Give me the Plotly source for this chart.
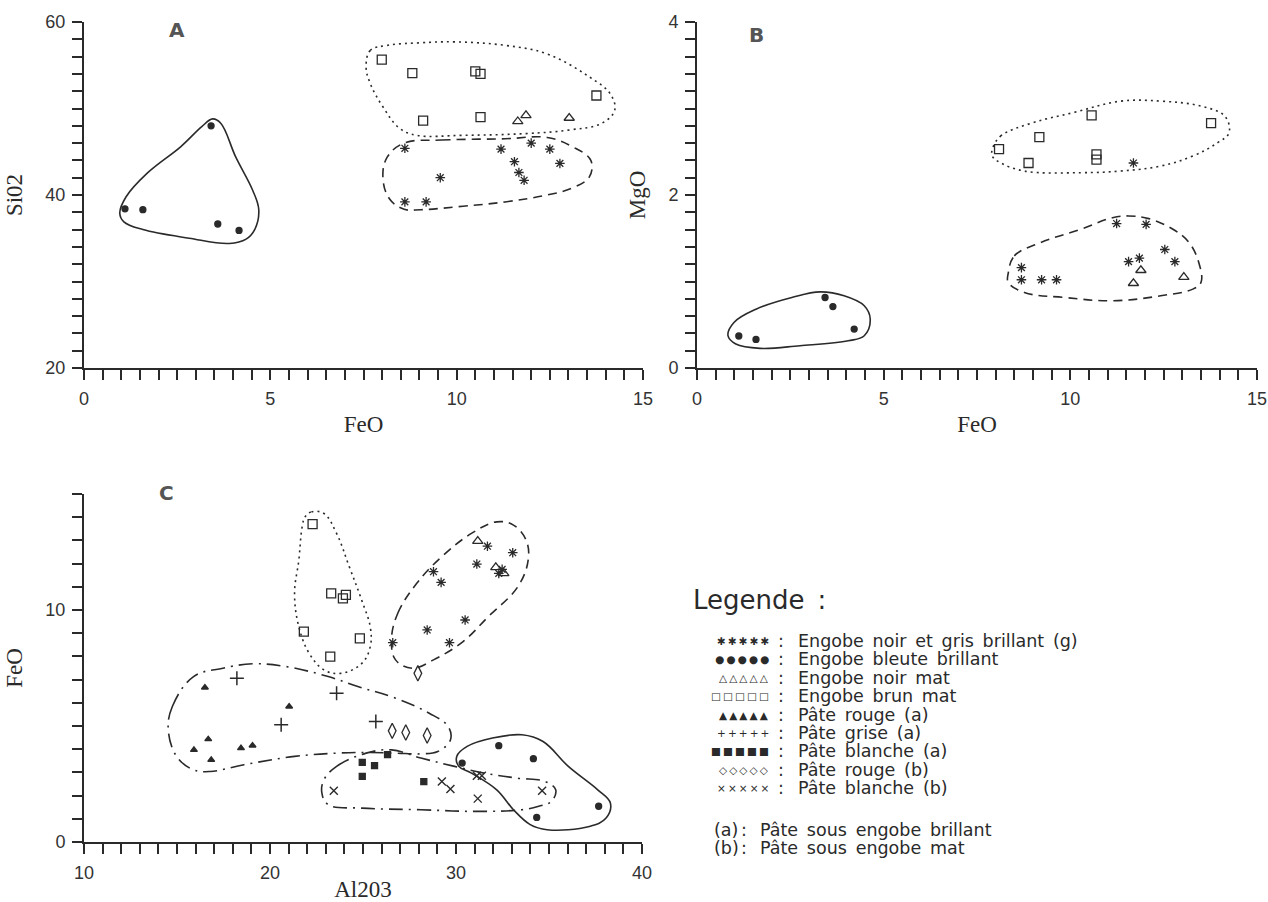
import plotly.graph_objects as go

W, H = 1268, 902

# ---------------- Panel A : SiO2 vs FeO ----------------
A_star_feo = [8.61, 11.19, 12.0, 12.5, 12.77, 11.55, 11.67, 11.81, 9.56, 8.61, 9.18]
A_star_sio2 = [45.4, 45.3, 46.0, 45.3, 43.65, 43.85, 42.6, 41.7, 42.0, 39.2, 39.2]
A_dot_feo = [3.41, 1.10, 1.58, 3.59, 4.16]
A_dot_sio2 = [48.0, 38.4, 38.3, 36.65, 35.9]
A_tri_feo = [11.64, 11.86, 13.02]
A_tri_sio2 = [48.5, 49.2, 48.9]
A_sq_feo = [7.99, 8.81, 10.5, 10.64, 13.75, 9.1, 10.64]
A_sq_sio2 = [55.65, 54.1, 54.3, 54.0, 51.5, 48.6, 49.0]

A_solid_x = [0.96, 1.13, 1.69, 2.60, 3.16, 3.45, 3.67, 4.07, 4.52, 4.69, 4.58, 4.35, 3.90, 2.82, 1.58, 1.07]
A_solid_y = [37.9, 39.8, 42.5, 45.6, 47.9, 48.8, 48.3, 44.4, 40.6, 38.3, 36.0, 34.9, 34.4, 35.0, 36.0, 36.9]
A_dot_x = [7.57, 7.68, 8.14, 9.04, 9.94, 11.3, 12.43, 13.56, 14.12, 14.24, 13.9, 12.99, 11.86, 10.17, 8.93, 8.47, 8.02, 7.68]
A_dot_y = [54.8, 56.7, 57.3, 57.6, 57.7, 57.3, 56.3, 53.65, 51.7, 49.8, 48.3, 47.5, 47.1, 46.9, 46.9, 47.7, 50.2, 52.9]
A_dash_x = [8.59, 9.6, 11.3, 12.43, 13.1, 13.6, 13.56, 13.1, 12.43, 11.3, 10.17, 9.04, 8.59, 8.19, 8.02, 8.14]
A_dash_y = [46.0, 46.35, 46.5, 46.65, 45.6, 44.0, 42.1, 40.8, 40.0, 39.2, 38.7, 38.3, 38.35, 39.6, 42.1, 44.4]

# ---------------- Panel B : MgO vs FeO ----------------
B_sq_feo = [8.09, 8.88, 9.17, 10.57, 10.7, 10.7, 13.77]
B_sq_mgo = [2.53, 2.37, 2.67, 2.92, 2.47, 2.41, 2.83]
B_star_feo = [11.69, 11.24, 12.03, 12.53, 11.56, 11.85, 12.8, 8.69, 8.69, 9.23, 9.63]
B_star_mgo = [2.37, 1.67, 1.66, 1.37, 1.23, 1.27, 1.23, 1.16, 1.02, 1.02, 1.02]
B_tri_feo = [11.89, 11.69, 13.04]
B_tri_mgo = [1.13, 0.98, 1.05]
B_dot_feo = [3.43, 3.64, 4.21, 1.12, 1.58]
B_dot_mgo = [0.815, 0.71, 0.45, 0.37, 0.33]

B_solid_x = [0.83, 0.99, 1.58, 2.54, 3.30, 3.94, 4.48, 4.64, 4.48, 4.05, 2.76, 1.69, 1.04]
B_solid_y = [0.373, 0.527, 0.68, 0.815, 0.88, 0.835, 0.72, 0.565, 0.373, 0.315, 0.258, 0.227, 0.277]
B_dot_x = [7.91, 8.13, 8.99, 10.06, 11.35, 12.42, 13.5, 14.14, 14.25, 13.93, 13.28, 12.42, 11.35, 10.28, 8.77, 8.13, 7.91]
B_dot_y = [2.527, 2.68, 2.835, 2.95, 3.085, 3.085, 3.027, 2.91, 2.72, 2.6, 2.45, 2.335, 2.277, 2.258, 2.277, 2.373, 2.45]
B_dash_x = [8.34, 8.5, 9.2, 10.28, 11.13, 11.56, 12.1, 12.75, 13.18, 13.44, 13.5, 13.28, 12.42, 11.13, 9.85, 8.77, 8.34]
B_dash_y = [1.104, 1.296, 1.45, 1.604, 1.738, 1.758, 1.727, 1.604, 1.45, 1.22, 0.99, 0.912, 0.835, 0.777, 0.815, 0.873, 0.988]

# ---------------- Panel C : FeO vs Al2O3 ----------------
C_sq_al = [22.29, 23.29, 23.92, 24.08, 21.82, 24.83, 23.24]
C_sq_fe = [13.7, 10.72, 10.5, 10.65, 9.07, 8.78, 7.99]
C_tri_al = [31.17, 32.14, 32.57]
C_tri_fe = [12.97, 11.84, 11.58]
C_star_al = [31.69, 33.05, 31.12, 28.79, 29.2, 32.3, 32.48, 30.49, 28.45, 29.65, 26.6]
C_star_fe = [12.75, 12.47, 11.98, 11.65, 11.19, 11.58, 11.75, 9.57, 9.14, 8.59, 8.59]
C_dia_al = [27.95, 26.57, 27.3, 28.45]
C_dia_fe = [7.27, 4.79, 4.72, 4.59]
C_ftri_al = [16.5, 21.03, 16.68, 15.91, 18.44, 19.06, 16.84]
C_ftri_fe = [6.66, 5.84, 4.43, 3.97, 4.05, 4.16, 3.54]
C_plus_al = [18.22, 23.58, 20.6, 25.69]
C_plus_fe = [7.06, 6.41, 5.05, 5.19]
C_fsq_al = [26.32, 24.96, 25.62, 24.96, 28.27]
C_fsq_fe = [3.77, 3.43, 3.29, 2.83, 2.6]
C_x_al = [23.43, 29.24, 29.7, 31.12, 31.39, 31.17, 34.63]
C_x_fe = [2.21, 2.61, 2.28, 2.86, 2.86, 1.87, 2.21]
C_dot_al = [32.3, 34.16, 30.33, 37.67, 34.34]
C_dot_fe = [4.15, 3.59, 3.4, 1.54, 1.06]

C_dotc_x = [21.89, 22.23, 22.9, 23.58, 24.26, 24.94, 25.39, 25.39, 24.94, 23.81, 22.9, 22.11, 21.55, 21.32, 21.55, 21.73]
C_dotc_y = [14.02, 14.23, 14.16, 13.3, 11.87, 10.4, 9.27, 8.42, 7.7, 7.27, 7.42, 8.13, 9.28, 10.72, 12.15, 13.59]
C_dash_x = [26.53, 26.87, 27.89, 29.24, 30.83, 32.19, 33.09, 33.77, 33.88, 33.32, 31.73, 30.38, 28.79, 27.66, 26.75]
C_dash_y = [8.71, 9.86, 11.15, 12.3, 13.3, 13.8, 13.66, 13.01, 12.15, 11.0, 9.71, 8.64, 7.85, 7.49, 7.85]
C_dd1_x = [14.53, 14.75, 15.89, 17.47, 19.06, 20.87, 23.13, 24.72, 26.75, 28.56, 29.58, 29.7, 29.02, 28.11, 26.75, 25.17, 23.58, 21.32, 18.6, 16.79, 15.89, 14.98]
C_dd1_y = [4.84, 5.84, 7.13, 7.49, 7.68, 7.56, 7.13, 6.7, 6.2, 5.55, 4.98, 4.4, 3.9, 3.8, 3.83, 3.86, 3.83, 3.69, 3.33, 3.04, 3.11, 3.69]
C_dd2_x = [22.9, 23.58, 25.17, 26.53, 28.11, 29.92, 31.51, 33.32, 34.79, 35.36, 35.13, 34.45, 33.55, 31.06, 28.11, 24.94, 23.13, 22.79]
C_dd2_y = [2.68, 3.26, 3.83, 3.97, 3.62, 3.26, 2.97, 2.75, 2.61, 2.25, 1.75, 1.54, 1.39, 1.32, 1.39, 1.46, 1.61, 2.11]
C_solid_x = [30.04, 30.6, 31.96, 33.55, 34.68, 36.04, 37.62, 38.3, 38.07, 37.17, 34.9, 33.99, 33.09, 32.19, 30.83, 30.15]
C_solid_y = [3.69, 4.12, 4.48, 4.62, 4.33, 3.26, 2.25, 1.68, 1.03, 0.67, 0.53, 0.75, 1.39, 2.25, 2.97, 3.26]

# ---------------- Legend text ----------------
legend_symbols = ["✱", "●", "△", "□", "▲", "+", "■", "◇", "×"]
legend_labels = ["Engobe noir et gris brillant (g)", "Engobe bleute brillant", "Engobe noir mat",
                 "Engobe brun mat", "Pâte rouge (a)", "Pâte grise (a)", "Pâte blanche (a)",
                 "Pâte rouge (b)", "Pâte blanche (b)"]
note_keys = ["(a)", "(b)"]
note_labels = ["Pâte sous engobe brillant", "Pâte sous engobe mat"]

INK = "#2a2a2a"
fig = go.Figure()


def pts(xs, ys, ax, symbol, size, lw=1.3):
    fig.add_trace(go.Scatter(x=xs, y=ys, mode="markers", xaxis=ax[0], yaxis=ax[1],
                             marker=dict(symbol=symbol, size=size, color=INK,
                                         line=dict(color=INK, width=lw)),
                             showlegend=False, hoverinfo="skip"))


def loop(xs, ys, ax, dash, lw=1.6):
    fig.add_trace(go.Scatter(x=list(xs) + [xs[0]], y=list(ys) + [ys[0]], mode="lines",
                             xaxis=ax[0], yaxis=ax[1],
                             line=dict(color=INK, width=lw, dash=dash, shape="spline", smoothing=1.1),
                             showlegend=False, hoverinfo="skip"))


AX_A, AX_B, AX_C = ("x", "y"), ("x2", "y2"), ("x3", "y3")
DOT = "2px,4px"
DASH = "9px,6px"
DASHDOT = "14px,6px,2px,6px"

# Panel A
loop(A_solid_x, A_solid_y, AX_A, "solid")
loop(A_dot_x, A_dot_y, AX_A, DOT)
loop(A_dash_x, A_dash_y, AX_A, DASH)
pts(A_star_feo, A_star_sio2, AX_A, "asterisk-open", 8)
pts(A_dot_feo, A_dot_sio2, AX_A, "circle", 6)
pts(A_tri_feo, A_tri_sio2, AX_A, "triangle-up-open", 9)
pts(A_sq_feo, A_sq_sio2, AX_A, "square-open", 9)

# Panel B
loop(B_solid_x, B_solid_y, AX_B, "solid")
loop(B_dot_x, B_dot_y, AX_B, DOT)
loop(B_dash_x, B_dash_y, AX_B, DASH)
pts(B_star_feo, B_star_mgo, AX_B, "asterisk-open", 8)
pts(B_dot_feo, B_dot_mgo, AX_B, "circle", 6)
pts(B_tri_feo, B_tri_mgo, AX_B, "triangle-up-open", 9)
pts(B_sq_feo, B_sq_mgo, AX_B, "square-open", 9)

# Panel C
loop(C_dotc_x, C_dotc_y, AX_C, DOT)
loop(C_dash_x, C_dash_y, AX_C, DASH)
loop(C_dd1_x, C_dd1_y, AX_C, DASHDOT)
loop(C_dd2_x, C_dd2_y, AX_C, DASHDOT)
loop(C_solid_x, C_solid_y, AX_C, "solid")
pts(C_sq_al, C_sq_fe, AX_C, "square-open", 9)
pts(C_tri_al, C_tri_fe, AX_C, "triangle-up-open", 9)
pts(C_star_al, C_star_fe, AX_C, "asterisk-open", 8)
pts(C_dia_al, C_dia_fe, AX_C, "diamond-tall-open", 11)
pts(C_ftri_al, C_ftri_fe, AX_C, "triangle-up", 6)
pts(C_plus_al, C_plus_fe, AX_C, "cross-thin-open", 10, 1.5)
pts(C_fsq_al, C_fsq_fe, AX_C, "square", 6)
pts(C_x_al, C_x_fe, AX_C, "x-thin-open", 8, 1.4)
pts(C_dot_al, C_dot_fe, AX_C, "circle", 6)


def px_x(p):
    return p / W


def px_y(p):
    return 1 - p / H


TICKFONT = dict(family="Liberation Sans", size=18, color="#333")
TITLEFONT = dict(family="Liberation Serif", size=23, color=INK)


def axis(domain, rng, dtick, minor, title, anchor, is_y):
    d = dict(domain=domain, range=rng, dtick=dtick, tick0=rng[0], anchor=anchor,
             showline=True, linecolor=INK, linewidth=2, mirror=False,
             ticks="outside", ticklen=10, tickwidth=1.8, tickcolor=INK,
             minor=dict(dtick=minor, tick0=rng[0], ticks="outside", ticklen=10, tickwidth=1.5,
                        tickcolor=INK, showgrid=False),
             showgrid=False, zeroline=False, tickfont=TICKFONT, automargin=False,
             title=dict(text=title, font=TITLEFONT, standoff=16 if is_y else 8),
             ticklabelstandoff=3)
    return d


layout = dict(width=W, height=H, margin=dict(l=0, r=0, t=0, b=0),
              paper_bgcolor="white", plot_bgcolor="white", showlegend=False)

A_xd = [px_x(84), px_x(643)]
A_yd = [px_y(368), px_y(22)]
B_xd = [px_x(697), px_x(1257)]
C_xd = [px_x(84), px_x(642)]
C_yd = [px_y(842), px_y(494)]

layout["xaxis"] = axis(A_xd, [0, 15], 5, 0.5, "FeO", "y", False)
layout["yaxis"] = axis(A_yd, [20, 60], 20, 2, "Si02", "x", True)
layout["xaxis2"] = axis(B_xd, [0, 15], 5, 0.5, "FeO", "y2", False)
layout["yaxis2"] = axis(A_yd, [0, 4], 2, 0.2, "MgO", "x2", True)
layout["xaxis3"] = axis(C_xd, [10, 40], 10, 1, "Al203", "y3", False)
layout["yaxis3"] = axis(C_yd, [0, 15], 10, 1, "FeO", "x3", True)
layout["yaxis3"]["tickvals"] = [0, 10]

ann = []
for letter, (lx, ly) in zip(["A", "B", "C"], [(177, 30), (756, 35), (166, 493)]):
    ann.append(dict(text=f"<b>{letter}</b>", x=px_x(lx), y=px_y(ly), xref="paper", yref="paper",
                    showarrow=False, font=dict(family="DejaVu Sans", size=20, color="#555"),
                    xanchor="center", yanchor="middle"))

SP = "\u2002"
LEG_FONT = dict(family="DejaVu Sans", size=17.5, color=INK)
ann.append(dict(text="Legende" + SP + ":", x=px_x(691), y=px_y(600), xref="paper", yref="paper",
                showarrow=False, xanchor="left", yanchor="middle",
                font=dict(family="DejaVu Sans", size=26, color=INK)))
for k, (sym, lab) in enumerate(zip(legend_symbols, legend_labels)):
    yy = px_y(641 + 18.4 * k)
    ann.append(dict(text="\u2009".join([sym] * 5), x=px_x(771), y=yy, xref="paper", yref="paper",
                    showarrow=False, xanchor="right", yanchor="middle",
                    font=dict(family="DejaVu Sans", size=10.5, color=INK)))
    ann.append(dict(text=":", x=px_x(781), y=yy, xref="paper", yref="paper", showarrow=False,
                    xanchor="center", yanchor="middle", font=LEG_FONT))
    ann.append(dict(text=lab.replace(" ", SP), x=px_x(796), y=yy, xref="paper", yref="paper",
                    showarrow=False, xanchor="left", yanchor="middle", font=LEG_FONT))
for k, (key, lab) in enumerate(zip(note_keys, note_labels)):
    yy = px_y(830 + 18.4 * k)
    ann.append(dict(text=key, x=px_x(712), y=yy, xref="paper", yref="paper", showarrow=False,
                    xanchor="left", yanchor="middle", font=LEG_FONT))
    ann.append(dict(text=":", x=px_x(744), y=yy, xref="paper", yref="paper", showarrow=False,
                    xanchor="center", yanchor="middle", font=LEG_FONT))
    ann.append(dict(text=lab.replace(" ", SP), x=px_x(758), y=yy, xref="paper", yref="paper",
                    showarrow=False, xanchor="left", yanchor="middle", font=LEG_FONT))
layout["annotations"] = ann

fig.update_layout(**layout)
fig.write_html("out.html", config={"displayModeBar": False},
               post_script="document.body.style.margin='0';")
